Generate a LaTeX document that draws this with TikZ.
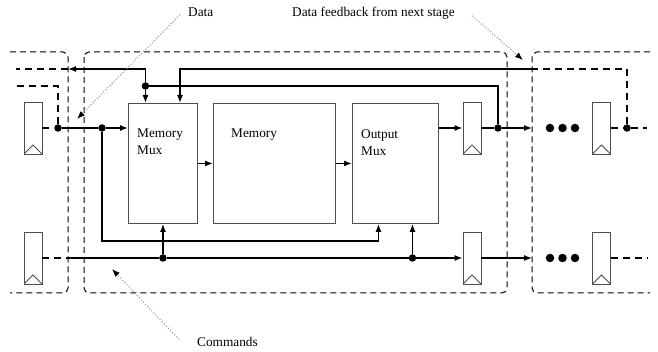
\documentclass[tikz,border=0pt]{standalone}
\usepackage{fontspec}
\setmainfont{Liberation Serif}
\usetikzlibrary{arrows.meta,calc}

\tikzset{
  wire/.style={line width=1.4pt},
  feed/.style={line width=1.4pt, dash pattern=on 7pt off 5pt},
  stage/.style={line width=1pt, dash pattern=on 6pt off 4pt, rounded corners=5pt},
  block/.style={draw=black!70, line width=0.9pt, minimum height=120pt, anchor=north west, inner sep=0pt},
  ff/.style={draw=black!70, line width=0.9pt, minimum width=18pt, minimum height=52pt, inner sep=0pt,
    path picture={\draw[black!70, line width=0.9pt] (path picture bounding box.south west)
      -- ([yshift=9pt]path picture bounding box.south) -- (path picture bounding box.south east);}},
  dot/.style={circle, fill, inner sep=0pt, minimum size=7.5pt},
  ell/.style={circle, fill, inner sep=0pt, minimum size=8.5pt},
  lbl/.style={font=\fontsize{13.3}{17}\selectfont, inner sep=0pt, align=left},
  note/.style={black!45, dotted, line width=1pt, -{Latex[length=8pt,width=6pt,color=black]}},
  >={Latex[length=8pt,width=6pt]},
}

\begin{document}
\begin{tikzpicture}[x=1pt, y=-1pt]
    \useasboundingbox (0,0) rectangle (658,352);

    % stages
    \draw[stage] (10,52) -- (68,52) -- (68,293) -- (10,293);
    \draw[stage] (84,52) rectangle (507,293);
    \draw[stage] (650,52) -- (532,52) -- (532,293) -- (650,293);

    % blocks
    \node[block, minimum width=69pt] (mmux) at (128,103) {};
    \node[block, minimum width=122pt] (mem) at (213,103) {};
    \node[block, minimum width=86pt] (omux) at (352,103) {};
    \node[lbl, anchor=north west] (mmuxlbl) at ([xshift=9pt,yshift=-26pt]mmux.north west) {Memory\\Mux};
    \node[lbl, anchor=north west] (memlbl) at ([xshift=18pt,yshift=-26pt]mem.north west) {Memory};
    \node[lbl, anchor=north west] (omuxlbl) at ([xshift=9pt,yshift=-26pt]omux.north west) {Output\\Mux};

    % registers
    \node[ff] (ffPrevTop) at (33,128) {};
    \node[ff] (ffPrevBot) at (33,258) {};
    \node[ff] (ffOutTop) at (472,128) {};
    \node[ff] (ffOutBot) at (472,258) {};
    \node[ff] (ffNextTop) at (601.5,128) {};
    \node[ff] (ffNextBot) at (601.5,258) {};

    \coordinate (cmdrow) at (0,258);
    \coordinate (looprow) at (0,241);
    \coordinate (prevFb) at (68,69);
    \coordinate (nextFb) at (532,69);
    \coordinate (nextIn) at (532,128);
    \coordinate (nextCmd) at (532,258);
    \coordinate (cmdIn) at (68,258);

    \node[dot] (dIn) at (58,128) {};
    \node[dot] (dSplit) at (102,128) {};
    \node[dot] (dFb) at ([xshift=-17.5pt]mmux.north |- 0,86) {};
    \node[dot] (dOut) at (498,128) {};
    \node[dot] (dNext) at (627,128) {};
    \node[dot] (dCmd1) at (mmux.south |- cmdrow) {};
    \node[dot] (dCmd2) at ([xshift=17pt]omux.south |- cmdrow) {};

    \foreach \i/\x in {1/550,2/562.5,3/575} {
      \node[ell] (eTop\i) at (\x,128) {};
      \node[ell] (eBot\i) at (\x,258) {};
    }

    % data path
    \draw[feed] (ffPrevTop.east) -- (dIn);
    \draw[feed] (dIn) |- (16,86);
    \draw[feed] (prevFb) -- (16,69);
    \draw[wire,->] (dIn) -- (dSplit) -- (dSplit -| mmux.west);
    \draw[wire,->] (dSplit) -- (dSplit |- looprow) -| ([xshift=-17pt]omux.south);
    \draw[wire,->] (mmux.east) -- (mem.west);
    \draw[wire,->] (mem.east) -- (omux.west);
    \draw[wire,->] (omux.east |- ffOutTop) -- (ffOutTop.west);
    \draw[wire,->] (ffOutTop.east) -- (dOut) -- (nextIn);

    % feedback
    \draw[wire] (dOut) |- (dFb);
    \draw[wire,->] (dFb) -- (dFb |- mmux.north);
    \draw[wire,->] (dFb) |- (prevFb);
    \draw[feed] (dNext) |- (nextFb);
    \draw[wire,->] (nextFb) -| ([xshift=17pt]mmux.north);
    \draw[feed] (ffNextTop.east) -- (dNext) -- (647,128);

    % commands
    \draw[feed] (ffPrevBot.east) -- (cmdIn);
    \draw[wire,->] (cmdIn) -- (dCmd1) -- (dCmd2) -- (ffOutBot.west);
    \draw[wire,->] (dCmd1) -- (dCmd1 |- mmux.south);
    \draw[wire,->] (dCmd2) -- (dCmd2 |- omux.south);
    \draw[wire,->] (ffOutBot.east) -- (nextCmd);
    \draw[feed] (ffNextBot.east) -- (647,258);

    % notes
    \node[lbl, anchor=base west] (dataNote) at (188,17) {Data};
    \node[lbl, anchor=base west] (fbNote) at (292,17) {Data feedback from next stage};
    \node[lbl, anchor=base west] (cmdNote) at (197,346) {Commands};
    \draw[note] ([xshift=-8pt,yshift=-2pt]dataNote.west) -- (77,119);
    \draw[note] ([xshift=17pt,yshift=-2pt]fbNote.east) -- (523,60);
    \draw[note] ([xshift=-18pt,yshift=2pt]cmdNote.west) -- (112,269);
\end{tikzpicture}
\end{document}
